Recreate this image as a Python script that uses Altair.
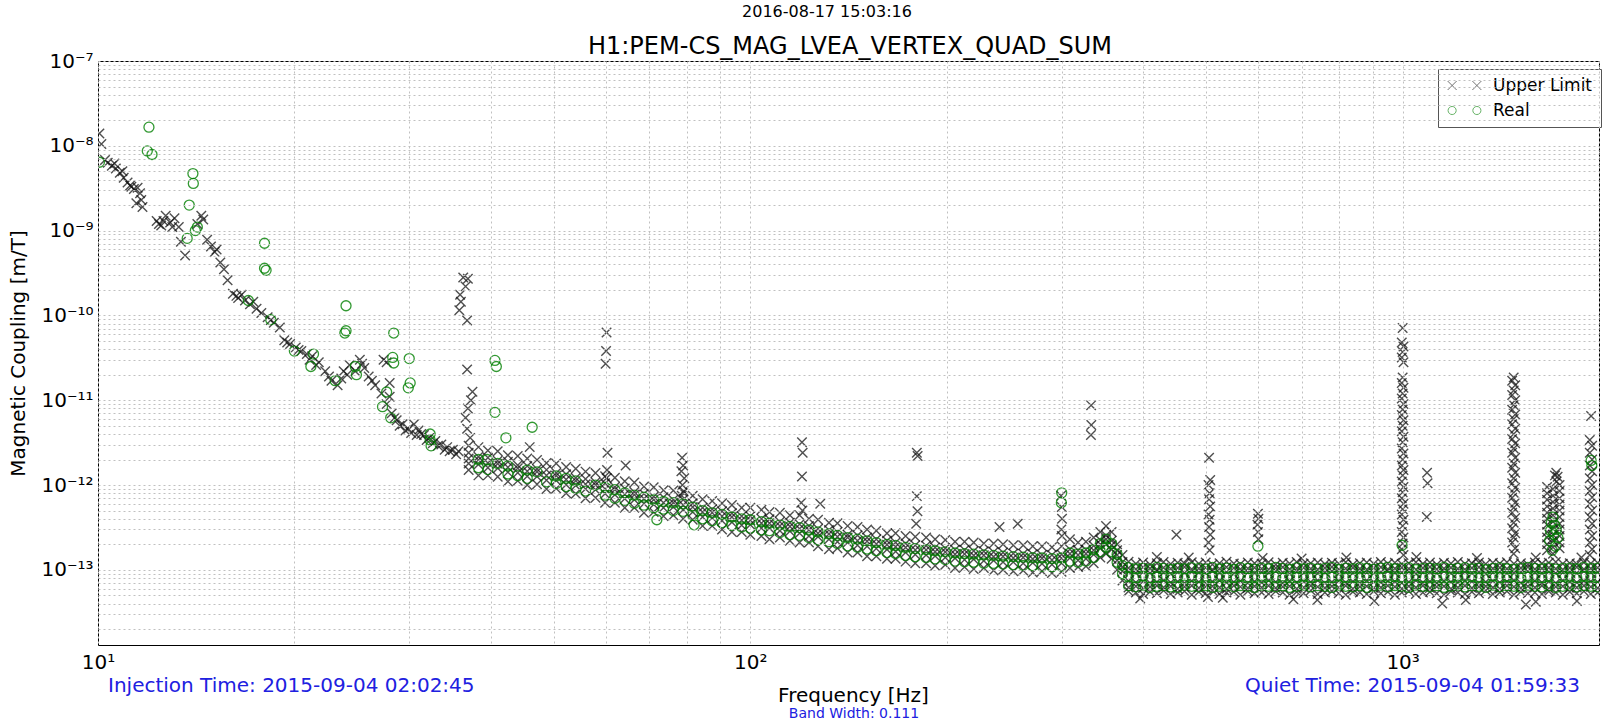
import altair as alt
import pandas as pd

# ---------------- texts ----------------
date_text = ["2016-08-17 15:03:16"]
title_text = ["H1:PEM-CS_MAG_LVEA_VERTEX_QUAD_SUM"]
injection_text = ["Injection Time: 2015-09-04 02:02:45"]
quiet_text = ["Quiet Time: 2015-09-04 01:59:33"]
bandwidth_text = ["Band Width: 0.111"]
series_names = ["Upper Limit", "Real"]
x_title = "Frequency [Hz]"
y_title = "Magnetic Coupling [m/T]"

# ---------------- data (frequency Hz, coupling m/T) ----------------
# Upper-limit points along the steep low-frequency part
line_ul = [
    (10.05, 1.4e-8), (10.12, 1.05e-8), (10.25, 6.8e-9), (10.35, 6.3e-9), (10.5, 5.8e-9), (10.6, 6.2e-9), (10.65, 5.4e-9), (10.8, 4.8e-9), (10.9, 5.0e-9), (10.95, 4.2e-9),
    (11.1, 3.7e-9), (11.2, 3.4e-9), (11.25, 3.3e-9), (11.35, 3.1e-9), (11.45, 2.1e-9), (11.5, 3.2e-9), (11.6, 2.75e-9), (11.7, 1.9e-9), (11.65, 2.3e-9), (12.3, 1.3e-9),
    (12.4, 1.2e-9), (12.5, 1.15e-9), (12.6, 1.3e-9), (12.7, 1.5e-9), (12.9, 1.25e-9), (13.0, 1.1e-9), (13.1, 1.4e-9), (13.3, 1.1e-9), (13.4, 7.4e-10), (13.6, 5.1e-10),
    (14.2, 1.2e-9), (14.4, 1.5e-9), (14.5, 1.35e-9), (14.7, 7.8e-10), (14.9, 6.5e-10), (15.1, 5.6e-10), (15.2, 6.0e-10), (15.4, 4.2e-10), (15.6, 3.5e-10), (15.8, 2.6e-10),
    (16.1, 1.8e-10), (16.3, 1.7e-10), (16.4, 1.6e-10), (16.6, 1.75e-10), (16.8, 1.5e-10), (17.1, 1.35e-10), (17.3, 1.45e-10), (17.5, 1.2e-10), (17.8, 1.07e-10), (18.2, 9.5e-11),
    (18.4, 8.8e-11), (18.6, 8.2e-11), (19.0, 7.2e-11), (19.3, 5.1e-11), (19.5, 4.8e-11), (19.7, 4.6e-11), (20.1, 4.2e-11), (20.3, 3.9e-11), (20.5, 3.8e-11), (20.9, 3.5e-11),
    (21.1, 3.0e-11), (21.3, 3.3e-11), (21.6, 2.6e-11), (21.8, 2.8e-11), (22.3, 2.2e-11), (22.6, 1.9e-11), (22.8, 1.7e-11), (23.3, 1.5e-11), (23.6, 1.8e-11), (23.8, 2.2e-11),
    (24.1, 2.0e-11), (24.3, 2.6e-11), (24.8, 2.2e-11), (25.2, 3.0e-11), (25.4, 2.7e-11), (25.6, 2.4e-11), (26.0, 1.9e-11), (26.3, 1.7e-11), (26.6, 1.5e-11), (27.2, 1.2e-11),
    (27.4, 3.0e-11), (27.7, 2.8e-11), (27.7, 9.0e-12), (28.0, 1.6e-11), (28.0, 1.1e-11), (28.2, 7.0e-12), (28.5, 6.2e-12), (28.7, 5.8e-12), (29.0, 5.0e-12), (29.3, 5.2e-12),
    (29.6, 4.4e-12), (29.9, 4.6e-12), (30.2, 4.1e-12), (30.5, 5.2e-12), (30.8, 3.9e-12), (31.0, 4.4e-12), (31.3, 4.0e-12), (31.6, 3.9e-12), (31.9, 3.4e-12), (32.2, 3.6e-12),
    (32.6, 3.1e-12), (32.9, 3.3e-12), (33.2, 2.9e-12), (33.6, 3.0e-12), (34.0, 2.6e-12), (34.3, 2.8e-12), (34.6, 2.5e-12), (35.0, 2.6e-12), (35.4, 2.3e-12), (35.7, 2.5e-12),
]

# Narrow lines (spikes) of upper-limit points
spike_ul_low = [
    (36.3, 2.8e-10), (36.9, 2.7e-10), (36.6, 2.2e-10), (35.9, 1.75e-10), (36.0, 1.45e-10), (35.8, 1.15e-10), (36.8, 8.7e-11),
    (36.8, 2.3e-11), (37.5, 1.26e-11), (37.3, 1.0e-11), (36.9, 8.0e-12), (36.6, 6.2e-12), (36.8, 4.6e-12), (37.2, 3.6e-12),
    (45.9, 2.8e-12),
    (60.2, 6.3e-11), (60.1, 3.8e-11), (60.0, 2.7e-11), (60.4, 2.4e-12), (60.3, 1.5e-12), (64.4, 1.7e-12), (60.2, 1.2e-12),
    (78.6, 2.1e-12), (78.9, 1.7e-12), (78.4, 1.45e-12), (79.2, 1.2e-12), (78.7, 1.0e-12), (79.0, 8.5e-13), (78.5, 7.5e-13),
    (120, 3.2e-12), (120.3, 2.4e-12), (120, 1.26e-12), (119.7, 6.2e-13), (120.2, 5.0e-13), (128, 6.0e-13),
    (180, 2.4e-12), (180.5, 2.2e-12), (180, 7.4e-13), (180.4, 4.9e-13), (179.6, 3.5e-13),
    (241, 3.2e-13), (257, 3.5e-13), (450, 2.6e-13),
    (299.5, 7.5e-13), (300.2, 5.5e-13), (300.5, 4.0e-13), (299.8, 3.0e-13), (300.3, 2.5e-13),
    (333, 8.7e-12), (333.2, 5.1e-12), (332.8, 3.9e-12),
]
spike_ul_mid = [
    (505, 2.1e-12), (507, 1.15e-12), (504, 1.0e-12), (506, 8.0e-13), (505, 6.8e-13), (507, 5.6e-13), (504, 4.5e-13),
    (506, 3.9e-13), (505, 3.2e-13), (507, 2.6e-13), (504, 2.1e-13), (506, 1.7e-13), (503, 4.8e-14),
    (600, 4.6e-13), (601, 4.0e-13), (599, 3.4e-13), (600, 2.8e-13), (601, 2.3e-13),
    (1090, 1.4e-12), (1092, 1.05e-12), (1089, 4.2e-13),
]
spike_ul_1000 = [
    (1000, 7.1e-11), (997, 4.8e-11), (1003, 4.3e-11), (1000, 3.7e-11), (997, 3.2e-11), (1003, 2.8e-11), (1000, 1.85e-11), (997, 1.6e-11), (1003, 1.4e-11), (1000, 1.2e-11),
    (997, 1.05e-11), (1003, 9.0e-12), (1000, 7.8e-12), (997, 6.7e-12), (1003, 5.8e-12), (1000, 5.0e-12), (997, 4.3e-12), (1003, 3.7e-12), (1000, 3.2e-12), (997, 2.7e-12),
    (1003, 2.35e-12), (1000, 2.0e-12), (997, 1.7e-12), (1003, 1.5e-12), (1000, 1.3e-12), (997, 1.1e-12), (1003, 9.5e-13), (1000, 8.2e-13), (997, 7.0e-13), (1003, 6.0e-13),
    (1000, 5.2e-13), (997, 4.5e-13), (1003, 3.9e-13), (1000, 3.3e-13), (997, 2.8e-13), (1003, 2.4e-13), (1000, 2.05e-13), (997, 1.75e-13), (1003, 1.5e-13),
]
spike_ul_1480 = [
    (1480, 1.86e-11), (1472, 1.7e-11), (1488, 1.5e-11), (1480, 1.3e-11), (1472, 1.15e-11), (1488, 1.0e-11), (1480, 8.8e-12), (1472, 7.7e-12), (1488, 6.8e-12), (1480, 6.0e-12),
    (1472, 5.2e-12), (1488, 4.6e-12), (1480, 4.0e-12), (1472, 3.5e-12), (1488, 3.1e-12), (1480, 2.7e-12), (1472, 2.4e-12), (1488, 2.1e-12), (1480, 1.8e-12), (1472, 1.6e-12),
    (1488, 1.4e-12), (1480, 1.2e-12), (1472, 1.05e-12), (1488, 9.3e-13), (1480, 8.1e-13), (1472, 7.1e-13), (1488, 6.2e-13), (1480, 5.4e-13), (1472, 4.7e-13), (1488, 4.1e-13),
    (1480, 3.6e-13), (1472, 3.1e-13), (1488, 2.7e-13), (1480, 2.4e-13), (1472, 2.1e-13), (1488, 1.8e-13), (1480, 1.55e-13),
]
spike_ul_1700 = [
    (1720, 1.4e-12), (1728, 1.25e-12), (1712, 1.3e-12), (1722, 1.1e-12),
    (1665, 9.5e-13), (1665, 8.0e-13), (1665, 6.7e-13), (1665, 5.6e-13), (1665, 4.7e-13), (1665, 4.0e-13), (1665, 3.4e-13), (1665, 2.8e-13), (1665, 2.4e-13), (1665, 2.0e-13), (1665, 1.7e-13),
    (1700, 9.0e-13), (1700, 7.5e-13), (1700, 6.3e-13), (1700, 5.3e-13), (1700, 4.4e-13), (1700, 3.7e-13), (1700, 3.1e-13), (1700, 2.6e-13), (1700, 2.2e-13), (1700, 1.85e-13), (1700, 1.55e-13),
    (1740, 1.0e-12), (1740, 8.5e-13), (1740, 7.0e-13), (1740, 5.9e-13), (1740, 5.0e-13), (1740, 4.2e-13), (1740, 3.5e-13), (1740, 3.0e-13), (1740, 2.5e-13), (1740, 2.1e-13), (1740, 1.8e-13),
]
spike_ul_1945 = [
    (1945, 6.5e-12),
    (1936, 3.4e-12), (1952, 2.9e-12), (1936, 2.4e-12), (1952, 2.0e-12), (1936, 1.7e-12), (1952, 1.45e-12), (1936, 1.2e-12), (1952, 1.0e-12), (1936, 8.5e-13), (1952, 7.2e-13),
    (1936, 6.0e-13), (1952, 5.0e-13), (1936, 4.2e-13), (1952, 3.5e-13), (1936, 3.0e-13), (1952, 2.5e-13), (1936, 2.1e-13), (1952, 1.75e-13), (1936, 1.5e-13),
]
outliers_ul = [
    (396, 4.6e-14), (530, 4.7e-14), (680, 4.5e-14), (740, 4.4e-14), (905, 4.3e-14), (1150, 4.0e-14), (1250, 4.4e-14), (1545, 3.9e-14), (1600, 4.2e-14), (1850, 4.3e-14),
    (420, 1.42e-13), (470, 1.4e-13), (610, 1.38e-13), (700, 1.36e-13), (820, 1.4e-13), (1050, 1.42e-13), (1300, 1.38e-13), (1600, 1.4e-13), (1880, 1.4e-13),
]

# Dense band 37-372 Hz (values in units of 1e-13 m/T)
lo_freq = [37, 38.3, 39.6, 41, 42.5, 44, 45.5, 47.1, 48.7, 50.4,
           52.2, 54, 55.9, 57.9, 59.9, 62, 64.2, 66.4, 68.7, 71.1,
           73.6, 76.2, 78.9, 81.6, 84.5, 87.4, 90.5, 93.7, 97, 100,
           104, 107, 111, 115, 119, 123, 127, 132, 136, 141,
           146, 151, 156, 162, 167, 173, 179, 186, 192, 199,
           206, 213, 220, 228, 236, 244, 253, 262, 271, 280,
           290, 300, 309, 318, 327, 336, 344, 351, 358, 365,
           372]
lo_x1 = [15, 13, 13, 12.5, 11, 11.2, 10, 10.2, 9, 9.1,
         8, 7.9, 7, 7.1, 6.2, 6.2, 5.4, 5.4, 4.7, 4.8,
         4.3, 4.4, 4.0, 3.9, 3.3, 3.3, 3.0, 2.8, 2.8, 2.6,
         2.5, 2.3, 2.4, 2.2, 2.1, 2.1, 1.9, 1.75, 1.8, 1.6,
         1.6, 1.45, 1.45, 1.35, 1.35, 1.25, 1.2, 1.2, 1.12, 1.15,
         1.05, 1.08, 1.02, 1.05, 0.98, 1.0, 0.96, 0.98, 0.93, 0.96,
         0.92, 0.95, 1.05, 1.08, 1.1, 1.2, 1.4, 1.55, 1.35, 1.0,
         0.75]
lo_x2 = [18, 17.5, 16, 15.8, 14.2, 14, 12.7, 12.6, 11.4, 11.3,
         10.1, 9.9, 9.0, 8.8, 7.9, 7.7, 6.9, 6.7, 6.0, 5.9,
         5.4, 5.5, 5.1, 4.8, 4.2, 4.1, 3.8, 3.65, 3.35, 3.4,
         3.1, 3.1, 2.9, 2.85, 2.7, 2.5, 2.45, 2.3, 2.15, 2.1,
         1.95, 1.9, 1.78, 1.74, 1.65, 1.6, 1.52, 1.5, 1.46, 1.4,
         1.37, 1.32, 1.33, 1.28, 1.29, 1.24, 1.24, 1.2, 1.21, 1.18,
         1.16, 1.2, 1.38, 1.3, 1.35, 1.52, 1.78, 2.0, 1.74, 1.3,
         0.96]
lo_x3 = [24, 21.5, 21, 19.3, 18.8, 17.1, 16.8, 15.5, 15.1, 13.9,
         13.4, 12.1, 11.8, 10.8, 10.5, 9.5, 9.1, 8.3, 7.9, 7.3,
         7.2, 6.7, 6.7, 6.1, 5.4, 5.2, 4.9, 4.65, 4.3, 4.3,
         4.0, 3.95, 3.7, 3.6, 3.45, 3.3, 3.05, 2.95, 2.8, 2.6,
         2.55, 2.4, 2.3, 2.2, 2.1, 2.05, 1.95, 1.92, 1.84, 1.8,
         1.73, 1.71, 1.67, 1.66, 1.62, 1.6, 1.56, 1.55, 1.53, 1.5,
         1.5, 1.52, 1.75, 1.7, 1.73, 1.92, 2.25, 2.55, 2.2, 1.7,
         1.24]
lo_x4 = [29, 28, 25.5, 25, 22.5, 22, 20.5, 19.8, 18.2, 17.9,
         16.3, 15.6, 14.4, 13.9, 12.7, 12.2, 11.1, 10.7, 9.6, 9.4,
         8.7, 8.6, 8.2, 7.5, 6.8, 6.5, 6.1, 5.8, 5.4, 5.4,
         5.1, 4.8, 4.7, 4.4, 4.4, 4.0, 3.9, 3.6, 3.55, 3.3,
         3.2, 3.0, 2.9, 2.7, 2.7, 2.5, 2.45, 2.4, 2.3, 2.25,
         2.15, 2.15, 2.1, 2.05, 2.05, 2.0, 1.95, 1.95, 1.9, 1.9,
         1.85, 1.9, 2.3, 2.1, 2.15, 2.4, 2.8, 3.3, 2.8, 2.0,
         1.5]
lo_x5 = [20.5, 19.8, 18.2, 17.8, 16.2, 15.8, 14.5, 14.3, 13.0, 12.9,
         11.6, 11.2, 10.2, 10.0, 9.0, 8.8, 7.8, 7.7, 6.9, 6.7,
         6.2, 6.2, 5.8, 5.5, 4.8, 4.7, 4.3, 4.2, 3.85, 3.85,
         3.55, 3.55, 3.3, 3.25, 3.05, 2.95, 2.7, 2.65, 2.45, 2.4,
         2.2, 2.18, 2.02, 1.98, 1.87, 1.83, 1.72, 1.72, 1.63, 1.62,
         1.53, 1.54, 1.48, 1.49, 1.43, 1.44, 1.38, 1.4, 1.34, 1.37,
         1.31, 1.37, 1.55, 1.5, 1.55, 1.7, 2.0, 2.3, 1.95, 1.5,
         1.08]
lo_c1 = [None, 16, 15.2, None, 13.5, 12.9, 12, None, 10.9, 10.4,
         9.6, 9.1, 8.5, None, 7.6, 7.0, 6.6, 6.1, 5.8, 5.4,
         5.2, 5.0, 4.9, 4.4, 4.0, 3.8, 3.6, 3.35, 3.2, 3.1,
         2.95, 2.9, 2.75, 2.6, 2.55, 2.4, 2.25, 2.15, 2.05, 1.92,
         1.85, 1.76, 1.68, 1.6, 1.56, 1.48, 1.43, 1.4, 1.35, 1.32,
         1.27, 1.25, 1.23, 1.2, 1.19, 1.17, 1.15, 1.13, 1.12, 1.1,
         1.09, 1.1, 1.27, 1.23, 1.27, 1.4, 1.64, 1.85, 1.64, 1.23,
         0.9]
lo_c2 = [None, 20, None, 18, 16.8, None, 15, 14.3, None, 12.8,
         12, 11.2, None, 10, 9.4, 8.8, 8.1, 7.6, 7.2, 6.7,
         6.4, 6.2, 6.0, 5.5, 5.0, 4.7, 4.5, 4.2, 4.0, 3.9,
         3.7, 3.55, 3.4, 3.25, 3.15, 2.95, 2.8, 2.65, 2.55, 2.4,
         2.3, 2.2, 2.1, 2.0, 1.94, 1.84, 1.78, 1.73, 1.68, 1.63,
         1.58, 1.55, 1.53, 1.5, 1.48, 1.45, 1.43, 1.41, 1.39, 1.38,
         1.36, 1.38, 1.58, 1.53, 1.58, 1.73, 2.04, 2.3, 2.04, 1.53,
         1.12]

# Dense band 380-1990 Hz (values in units of 1e-13 m/T)
hi_freq = [380, 390, 400, 410, 420, 430, 441, 452, 463, 475,
           487, 499, 511, 524, 537, 551, 564, 579, 593, 608,
           623, 639, 655, 671, 688, 705, 723, 741, 760, 779,
           798, 818, 839, 860, 881, 903, 926, 949, 973, 997,
           1022, 1048, 1074, 1101, 1128, 1157, 1186, 1215, 1246, 1277,
           1309, 1341, 1375, 1409, 1445, 1481, 1518, 1556, 1595, 1635,
           1675, 1717, 1760, 1804, 1849, 1896, 1943, 1990]
hi_x1 = [0.56, 0.54, 0.52, 0.55, 0.53, 0.57, 0.52, 0.54, 0.56, 0.51,
         0.55, 0.53, 0.57, 0.52, 0.54, 0.55, 0.51, 0.56, 0.53, 0.54,
         0.52, 0.56, 0.54, 0.51, 0.55, 0.53, 0.57, 0.52, 0.54, 0.56,
         0.53, 0.51, 0.55, 0.54, 0.52, 0.56, 0.53, 0.55, 0.51, 0.54,
         0.56, 0.52, 0.54, 0.55, 0.53, 0.51, 0.56, 0.54, 0.52, 0.55,
         0.53, 0.57, 0.52, 0.54, 0.56, 0.51, 0.55, 0.53, 0.54, 0.52,
         0.56, 0.54, 0.51, 0.55, 0.53, 0.56, 0.52, 0.54]
hi_x2 = [0.74, 0.71, 0.73, 0.70, 0.72, 0.75, 0.71, 0.73, 0.70, 0.74,
         0.72, 0.70, 0.73, 0.75, 0.71, 0.72, 0.74, 0.70, 0.73, 0.71,
         0.75, 0.72, 0.70, 0.74, 0.71, 0.73, 0.72, 0.75, 0.70, 0.72,
         0.74, 0.71, 0.73, 0.70, 0.75, 0.72, 0.71, 0.74, 0.73, 0.70,
         0.72, 0.75, 0.71, 0.73, 0.70, 0.74, 0.72, 0.71, 0.75, 0.73,
         0.70, 0.72, 0.74, 0.71, 0.73, 0.75, 0.70, 0.72, 0.74, 0.71,
         0.73, 0.70, 0.75, 0.72, 0.71, 0.74, 0.73, 0.72]
hi_x3 = [0.95, 0.92, 0.94, 0.91, 0.96, 0.93, 0.90, 0.94, 0.92, 0.95,
         0.93, 0.91, 0.96, 0.92, 0.94, 0.90, 0.95, 0.93, 0.91, 0.94,
         0.92, 0.96, 0.93, 0.90, 0.95, 0.92, 0.94, 0.91, 0.93, 0.96,
         0.90, 0.94, 0.92, 0.95, 0.93, 0.91, 0.94, 0.96, 0.92, 0.93,
         0.95, 0.90, 0.93, 0.94, 0.92, 0.96, 0.91, 0.93, 0.95, 0.92,
         0.94, 0.90, 0.93, 0.95, 0.92, 0.91, 0.94, 0.96, 0.93, 0.92,
         0.95, 0.91, 0.93, 0.94, 0.92, 0.96, 0.93, 0.94]
hi_x4 = [1.25, 1.18, 1.22, 1.16, 1.20, 1.24, 1.17, 1.21, 1.19, 1.23,
         1.18, 1.22, 1.16, 1.20, 1.25, 1.19, 1.17, 1.22, 1.20, 1.18,
         1.23, 1.16, 1.21, 1.19, 1.24, 1.18, 1.20, 1.22, 1.17, 1.21,
         1.19, 1.23, 1.16, 1.20, 1.22, 1.18, 1.24, 1.19, 1.21, 1.17,
         1.20, 1.23, 1.18, 1.22, 1.16, 1.21, 1.19, 1.24, 1.18, 1.20,
         1.22, 1.17, 1.21, 1.19, 1.23, 1.18, 1.20, 1.16, 1.22, 1.19,
         1.21, 1.24, 1.18, 1.20, 1.17, 1.22, 1.19, 1.21]
hi_x5 = [0.62, 0.64, 0.61, 0.63, 0.65, 0.62, 0.64, 0.60, 0.63, 0.65,
         0.61, 0.63, 0.64, 0.62, 0.60, 0.65, 0.63, 0.61, 0.64, 0.62,
         0.65, 0.61, 0.63, 0.64, 0.60, 0.62, 0.65, 0.63, 0.61, 0.64,
         0.62, 0.65, 0.60, 0.63, 0.64, 0.61, 0.62, 0.65, 0.63, 0.60,
         0.64, 0.62, 0.65, 0.61, 0.63, 0.64, 0.60, 0.62, 0.65, 0.61,
         0.63, 0.64, 0.62, 0.60, 0.65, 0.63, 0.61, 0.64, 0.62, 0.65,
         0.60, 0.63, 0.64, 0.61, 0.62, 0.65, 0.63, 0.61]
hi_x6 = [1.05, 1.02, 1.07, 1.04, 1.01, 1.06, 1.03, 1.05, 1.08, 1.02,
         1.04, 1.06, 1.01, 1.03, 1.07, 1.05, 1.02, 1.04, 1.06, 1.03,
         1.01, 1.05, 1.07, 1.02, 1.04, 1.06, 1.03, 1.01, 1.05, 1.08,
         1.02, 1.04, 1.06, 1.03, 1.01, 1.05, 1.07, 1.02, 1.04, 1.06,
         1.03, 1.01, 1.05, 1.08, 1.02, 1.04, 1.06, 1.03, 1.01, 1.05,
         1.07, 1.02, 1.04, 1.06, 1.03, 1.01, 1.05, 1.08, 1.02, 1.04,
         1.06, 1.03, 1.01, 1.05, 1.07, 1.02, 1.04, 1.06]
hi_c1 = [0.65, 0.63, 0.66, 0.62, 0.64, 0.65, 0.63, 0.62, 0.66, 0.64,
         0.63, 0.65, 0.62, 0.64, 0.66, 0.63, 0.65, 0.64, 0.62, 0.66,
         0.64, 0.63, 0.65, 0.62, 0.64, 0.66, 0.63, 0.65, 0.64, 0.62,
         0.66, 0.64, 0.63, 0.65, 0.62, 0.64, 0.66, 0.63, 0.65, 0.64,
         0.62, 0.66, 0.64, 0.63, 0.65, 0.62, 0.64, 0.66, 0.63, 0.65,
         0.64, 0.62, 0.66, 0.63, 0.65, 0.64, 0.62, 0.66, 0.64, 0.63,
         0.65, 0.62, 0.64, 0.66, 0.63, 0.65, 0.64, 0.63]
hi_c2 = [0.83, 0.81, 0.84, 0.80, 0.82, 0.85, 0.81, 0.83, 0.80, 0.84,
         0.82, 0.80, 0.83, 0.85, 0.81, 0.82, 0.84, 0.80, 0.83, 0.81,
         0.85, 0.82, 0.80, 0.84, 0.81, 0.83, 0.82, 0.85, 0.80, 0.82,
         0.84, 0.81, 0.83, 0.80, 0.85, 0.82, 0.81, 0.84, 0.83, 0.80,
         0.82, 0.85, 0.81, 0.83, 0.80, 0.84, 0.82, 0.81, 0.85, 0.83,
         0.80, 0.82, 0.84, 0.81, 0.83, 0.85, 0.80, 0.82, 0.84, 0.81,
         0.83, 0.80, 0.85, 0.82, 0.81, 0.84, 0.83, 0.82]
hi_c3 = [1.06, 1.03, 1.05, 1.02, 1.07, 1.04, 1.01, 1.05, 1.03, 1.06,
         1.04, 1.02, 1.07, 1.03, 1.05, 1.01, 1.06, 1.04, 1.02, 1.05,
         1.03, 1.07, 1.04, 1.01, 1.06, 1.03, 1.05, 1.02, 1.04, 1.07,
         1.01, 1.05, 1.03, 1.06, 1.04, 1.02, 1.05, 1.07, 1.03, 1.04,
         1.06, 1.01, 1.04, 1.05, 1.03, 1.07, 1.02, 1.04, 1.06, 1.03,
         1.05, 1.01, 1.04, 1.06, 1.03, 1.02, 1.05, 1.07, 1.04, 1.03,
         1.06, 1.02, 1.04, 1.05, 1.03, 1.07, 1.04, 1.05]

# Scattered "Real" points
real_scatter = [
    (10.05, 6.4e-9), (11.97, 1.66e-8), (11.9, 8.7e-9), (12.1, 7.9e-9), (13.98, 4.7e-9), (14.0, 3.6e-9), (13.8, 2.0e-9), (14.2, 1.1e-9), (14.1, 1.0e-9), (13.7, 8.1e-10),
    (18.0, 7.1e-10), (18.0, 3.6e-10), (18.1, 3.4e-10), (17.0, 1.5e-10), (18.4, 8.9e-11), (20.0, 3.8e-11), (21.4, 3.5e-11), (21.2, 2.5e-11), (23.1, 1.7e-11), (24.0, 1.3e-10),
    (24.0, 6.6e-11), (23.9, 6.2e-11), (24.8, 2.5e-11), (24.9, 2.0e-11), (28.4, 6.2e-11), (28.3, 3.2e-11), (28.4, 2.75e-11), (30.0, 3.1e-11), (30.1, 1.6e-11), (29.9, 1.4e-11),
    (27.7, 1.25e-11), (27.3, 8.4e-12), (28.1, 6.2e-12), (32.3, 4.0e-12), (32.3, 3.4e-12), (32.4, 2.9e-12), (40.6, 2.95e-11), (40.8, 2.5e-11), (40.6, 7.2e-12), (46.3, 4.8e-12),
    (42.2, 3.6e-12), (39.5, 2.0e-12), (71.9, 3.9e-13), (82, 3.4e-13), (300.2, 8.1e-13), (299.8, 6.2e-13), (600, 1.9e-13), (998, 1.95e-13),
    (1700, 4.2e-13), (1690, 3.6e-13), (1720, 3.0e-13), (1705, 2.6e-13), (1680, 2.2e-13), (1715, 1.9e-13), (1695, 1.7e-13), (1730, 2.4e-13), (1710, 3.4e-13), (1685, 2.9e-13),
    (1945, 1.95e-12), (1950, 1.7e-12),
]

# ---------------- build tables ----------------
UNIT = 1e-13
assert len(lo_freq) == len(lo_x1) == len(lo_x2) == len(lo_x3) == len(lo_x4) == len(lo_x5) == len(lo_c1) == len(lo_c2)
assert len(hi_freq) == len(hi_x1) == len(hi_x2) == len(hi_x3) == len(hi_x4) == len(hi_x5) == len(hi_x6)
assert len(hi_freq) == len(hi_c1) == len(hi_c2) == len(hi_c3)

ul_pts = []
for cols in zip(lo_freq, lo_x1, lo_x2, lo_x5, lo_x3, lo_x4):
    ul_pts += [(cols[0], v * UNIT) for v in cols[1:]]
for cols in zip(hi_freq, hi_x1, hi_x5, hi_x2, hi_x3, hi_x6, hi_x4):
    ul_pts += [(cols[0], v * UNIT) for v in cols[1:]]
ul_pts += line_ul + spike_ul_low + spike_ul_mid + spike_ul_1000 + spike_ul_1480 + spike_ul_1700 + spike_ul_1945 + outliers_ul

real_pts = []
for cols in zip(lo_freq, lo_c1, lo_c2):
    real_pts += [(cols[0], v * UNIT) for v in cols[1:] if v is not None]
for cols in zip(hi_freq, hi_c1, hi_c2, hi_c3):
    real_pts += [(cols[0], v * UNIT) for v in cols[1:]]
real_pts += real_scatter

df_ul = pd.DataFrame(ul_pts, columns=["f", "v"])
df_real = pd.DataFrame(real_pts, columns=["f", "v"])
df_leg = pd.DataFrame({"series": series_names})

# ---------------- axes ----------------
SUP = str.maketrans("-0123456789", "\u207b\u2070\u00b9\u00b2\u00b3\u2074\u2075\u2076\u2077\u2078\u2079")


def pow_label_expr(exps):
    e = "round(log(datum.value)/LN10)"
    parts = [f"{e} == {k} ? '10{str(k).translate(SUP)}'" for k in exps]
    return f"abs(log(datum.value)/LN10 - {e}) > 0.001 ? '' : (" + " : ".join(parts) + " : '')"


x_ticks = [m * 10.0 ** e for e in (1, 2, 3) for m in range(1, 10) if m * 10.0 ** e <= 2000]
y_ticks = [m * 10.0 ** e for e in range(-14, -7) for m in range(1, 10) if m * 10.0 ** e >= 1.3e-14] + [1e-7]

FONT = "DejaVu Sans"
GRID = dict(grid=True, gridColor="#c0c0c0", gridDash=[2, 3], gridWidth=1, ticks=False, tickSize=0,
            domain=False, labelFont=FONT, labelFontSize=20, labelColor="black", labelOverlap=False,
            titleFont=FONT, titleFontSize=20, titleFontWeight="normal", titleColor="black", zindex=1)

x_axis = alt.Axis(values=x_ticks, labelExpr=pow_label_expr([1, 2, 3]), labelPadding=23,
                  labelBaseline="alphabetic", labelFlush=False, title=x_title, titleX=755, titleY=56,
                  titleAlign="center", titleBaseline="alphabetic", **GRID)
y_axis = alt.Axis(values=y_ticks, labelExpr=pow_label_expr(list(range(-13, -6))), labelPadding=5,
                  labelBaseline="middle", labelFlush=False, title=y_title, titleX=-80, titleY=292,
                  titleAngle=270, titleAlign="center", titleBaseline="middle", **GRID)

xs = alt.Scale(type="log", domain=[10, 2000], nice=False)
ys = alt.Scale(type="log", domain=[1.3e-14, 1e-7], nice=False)
X_ENC = alt.X("f:Q", scale=xs, axis=x_axis)
Y_ENC = alt.Y("v:Q", scale=ys, axis=y_axis)

XPATH = "M-1,-1L1,1M-1,1L1,-1"
X2PATH = "M-3.75,-1L-1.75,1M-3.75,1L-1.75,-1M1.75,-1L3.75,1M1.75,1L3.75,-1"
O2PATH = ("M-3.65,0A0.9,0.9,0,1,0,-1.85,0A0.9,0.9,0,1,0,-3.65,0Z"
          "M1.85,0A0.9,0.9,0,1,0,3.65,0A0.9,0.9,0,1,0,1.85,0Z")
UL_COLOR = "#151515"
REAL_COLOR = "#008000"

ul_layer = alt.Chart(df_ul).mark_point(
    shape=XPATH, filled=False, size=90, strokeWidth=1.4, color=UL_COLOR, opacity=0.75, clip=True
).encode(x=X_ENC, y=Y_ENC)

real_layer = alt.Chart(df_real).mark_point(
    shape="circle", filled=False, size=100, strokeWidth=1.3, color=REAL_COLOR, opacity=0.8, clip=True
).encode(x=X_ENC, y=Y_ENC)

leg = alt.Legend(orient="none", legendX=1340, legendY=8, title=None, strokeColor="#555555",
                 fillColor="white", padding=8, symbolOffset=10, labelOffset=20, symbolSize=81,
                 symbolStrokeWidth=1, labelFont=FONT, labelFontSize=17, labelColor="black",
                 rowPadding=7, cornerRadius=0)
legend_layer = alt.Chart(df_leg).transform_filter("false").mark_point(
    filled=False, opacity=0.6, strokeWidth=1
).encode(
    shape=alt.Shape("series:N", scale=alt.Scale(domain=series_names, range=[X2PATH, O2PATH]), legend=leg),
    color=alt.Color("series:N", scale=alt.Scale(domain=series_names, range=[UL_COLOR, REAL_COLOR]), legend=leg),
)


def text_layer(txt, x, y, size, color="black", align="center"):
    return alt.Chart(pd.DataFrame({"t": txt})).mark_text(
        font=FONT, fontSize=size, color=color, align=align, baseline="alphabetic"
    ).encode(text="t:N", x=alt.value(x), y=alt.value(y))


BLUE = "#2020e0"
texts = [
    text_layer(date_text, 729, -44, 16),
    text_layer(title_text, 752, -7, 24),
    text_layer(injection_text, 10, 631, 20, BLUE, "left"),
    text_layer(quiet_text, 1482, 631, 20, BLUE, "right"),
    text_layer(bandwidth_text, 756, 657, 14, BLUE),
]

chart = alt.layer(ul_layer, real_layer, legend_layer, *texts).properties(
    width=1501, height=584,
    padding={"left": 98, "top": 61, "right": 9, "bottom": 76},
    autosize=alt.AutoSizeParams(type="none"),
    background="white",
).configure_view(stroke="black", strokeWidth=1)

chart.save("out.html", embed_options={"renderer": "svg", "actions": False})
